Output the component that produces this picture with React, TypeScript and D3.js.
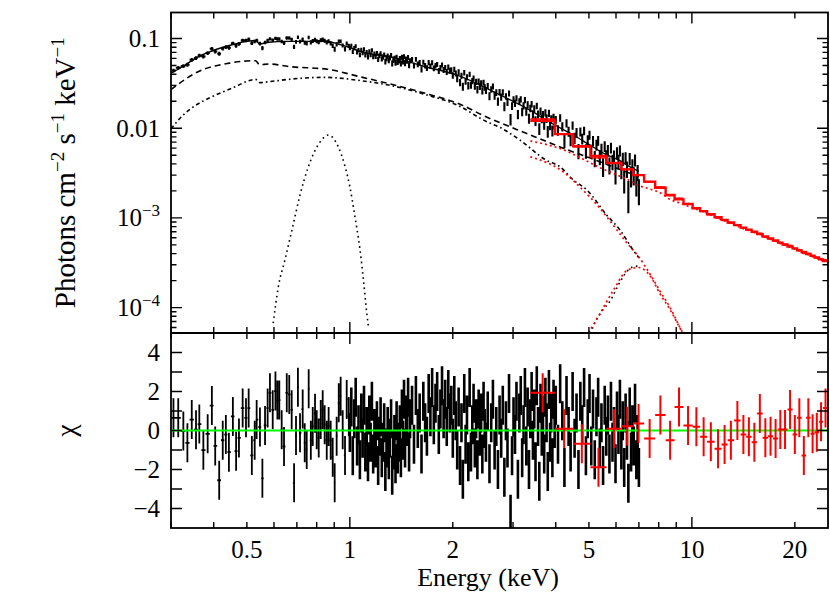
import React from "react";
import * as d3 from "d3";

// ---------- black spectrum (soft instrument) ----------
// bin centres (keV) and residuals (chi)
const blackLowE = [
  0.305, 0.315, 0.326, 0.335, 0.345, 0.355, 0.363, 0.373, 0.384, 0.395,
  0.404, 0.415, 0.425, 0.434, 0.443, 0.455, 0.465, 0.474, 0.486, 0.497,
  0.506, 0.517, 0.527, 0.534, 0.546, 0.555, 0.565, 0.575, 0.584, 0.595,
  0.606, 0.614, 0.622, 0.632, 0.642, 0.654, 0.665, 0.676, 0.687, 0.696,
  0.705, 0.715, 0.728, 0.738, 0.748, 0.758, 0.769, 0.779, 0.791, 0.8,
  0.811, 0.822, 0.833, 0.844, 0.856, 0.867, 0.879, 0.891, 0.903, 0.915,
  0.928, 0.94, 0.953, 0.968, 0.979, 0.993,
];
const blackLowChi = [
  0.65, 0.65, -0.03, -0.63, 0.56, 0.04, 0.33, -1.01, -0.17, 1.28,
  -0.79, -2.55, -0.5, -0.21, -1.11, 0.72, -1.06, -0.38, 1.15, 0.65,
  1.15, -1.28, -0.5, 0.56, 0.18, -2.45, 0.26, 1.15, 1.93, 1.06,
  2.02, 1.56, 1.56, 0.04, -0.82, 1.93, 1.85, 1.06, -2.68, -0.26,
  2.22, -0.12, 1.1, -0.63, -0.97, 2.14, -0.5, 0.21, 0.89, 0.04,
  -0.38, 0.56, 1.06, 0.3, -0.5, 0.21, -0.5, -1.37, -2.68, -0.29,
  1.42, 1.76, 0.04, -1.28, 1.59, 0.72,
];
const blackHighE = [
  1.0, 1.01, 1.02, 1.03, 1.04, 1.05, 1.06, 1.07, 1.08, 1.09,
  1.1, 1.11, 1.12, 1.13, 1.14, 1.15, 1.16, 1.17, 1.18, 1.19,
  1.2, 1.21, 1.22, 1.23, 1.24, 1.25, 1.26, 1.27, 1.28, 1.29,
  1.3, 1.31, 1.32, 1.33, 1.34, 1.35, 1.36, 1.37, 1.38, 1.39,
  1.4, 1.41, 1.42, 1.43, 1.44, 1.45, 1.46, 1.47, 1.48, 1.49,
  1.5, 1.52, 1.54, 1.56, 1.58, 1.6, 1.62, 1.64, 1.66, 1.68,
  1.7, 1.72, 1.74, 1.76, 1.78, 1.8, 1.82, 1.84, 1.86, 1.88,
  1.9, 1.92, 1.94, 1.96, 1.98, 2.0, 2.02, 2.04, 2.06, 2.08,
  2.1, 2.12, 2.14, 2.16, 2.18, 2.2, 2.22, 2.24, 2.26, 2.28,
  2.3, 2.32, 2.34, 2.36, 2.38, 2.4, 2.42, 2.44, 2.46, 2.48,
  2.5, 2.53, 2.56, 2.59, 2.62, 2.65, 2.68, 2.71, 2.74, 2.77,
  2.8, 2.83, 2.86, 2.89, 2.92, 2.95, 2.98, 3.01, 3.04, 3.07,
  3.1, 3.13, 3.16, 3.19, 3.22, 3.25, 3.28, 3.31, 3.34, 3.37,
  3.4, 3.43, 3.46, 3.49, 3.52, 3.55, 3.58, 3.61, 3.64, 3.67,
  3.7, 3.73, 3.76, 3.79, 3.82, 3.85, 3.88, 3.91, 3.94, 3.97,
  4.0, 4.06, 4.12, 4.18, 4.24, 4.3, 4.36, 4.42, 4.48, 4.54,
  4.6, 4.66, 4.72, 4.78, 4.84, 4.9, 4.96, 5.02, 5.08, 5.14,
  5.2, 5.26, 5.32, 5.38, 5.44, 5.5, 5.56, 5.62, 5.68, 5.74,
  5.8, 5.86, 5.92, 5.98, 6.04, 6.1, 6.16, 6.22, 6.28, 6.34,
  6.4, 6.46, 6.52, 6.58, 6.64, 6.7, 6.76, 6.82, 6.88, 6.94, 7.0,
];
const blackHighChi = [
  -0.1, 1.2, -1.3, 0.6, 1.7, -0.8, 0.3, -1.5, 0.9, -0.4,
  1.3, -1.1, 0.2, -1.6, 0.8, -0.6, 1.5, -1.2, 0.1, -0.9,
  0.5, -1.8, -0.3, 0.7, -1.4, -0.6, 0.4, -2.1, -0.9, 0.2,
  -1.5, -0.4, 0.6, -2.3, -1.0, -0.2, -1.7, 0.5, -1.2, -0.6,
  0.3, -1.4, 1.1, -0.5, 1.6, -0.9, 0.8, 0.2, 1.7, -1.1,
  0.6, 1.3, -0.7, 1.8, 0.1, 0.9, -1.2, 1.5, 0.4, -0.3,
  1.9, 0.7, 2.2, 0.3, 1.4, 2.0, -0.2, 1.1, 2.3, 0.6,
  1.6, 0.2, 2.1, 0.9, 1.3, -0.4, 1.8, 0.5, -1.0, 1.2,
  -1.8, 0.4, -2.5, 1.9, -0.7, 0.8, -1.6, 2.2, -1.1, 0.3,
  1.4, -0.9, 0.6, -1.5, 1.1, -0.3, 0.9, -1.2, 1.5, 0.1,
  -0.6, 1.0, -1.7, 0.4, 1.6, -1.0, 0.2, -2.0, 0.8, -0.4,
  1.3, -2.4, 0.5, -0.9, 1.9, -4.3, -1.3, 0.7, -0.2, 1.5,
  -2.5, 0.9, 1.8, -1.4, 0.3, 2.2, -0.8, 1.2, -2.0, 0.6,
  2.0, -0.5, 1.1, -1.6, 2.3, 0.2, -2.6, 1.4, -0.3, 0.8,
  -1.2, 1.7, 0.4, -2.1, 2.1, -0.6, 0.9, -1.4, 1.6, 0.1,
  1.3, -0.7, 2.4, 0.5, -1.9, 1.8, 0.2, -1.1, 2.0, -0.4,
  0.9, -2.0, 1.5, 0.3, 2.2, -1.3, 0.6, 1.9, -0.8, 1.1,
  -1.5, 0.7, 1.7, -0.9, 0.4, -1.8, 1.3, -0.3, 0.8, -1.2,
  1.5, -0.6, 0.2, -1.7, 1.0, -0.2, 1.6, -1.0, 0.5, -1.9,
  0.9, -0.5, -2.7, 1.2, -1.1, 0.3, -0.8, 1.4, -1.5, -0.2, -1.9,
];
// fractional 1-sigma error of the black points
const fracErrE = [0.3, 0.5, 1.0, 1.5, 2.0, 3.0, 4.0, 5.0, 6.0, 7.0];
const fracErr = [0.05, 0.045, 0.055, 0.07, 0.08, 0.09, 0.12, 0.15, 0.18, 0.2];

// black model curves (photons cm^-2 s^-1 keV^-1)
const totalE = [0.3, 0.33, 0.36, 0.395, 0.45, 0.5, 0.53, 0.545, 0.58, 0.65, 0.78, 0.86, 0.92, 1.0, 1.08, 1.33, 1.66, 2.08, 2.63, 3.3, 3.95, 4.5, 5.0, 5.6, 6.2, 6.6, 7.0];
const totalF = [0.041, 0.0507, 0.0626, 0.0726, 0.0847, 0.093, 0.095, 0.087, 0.091, 0.093, 0.093, 0.093, 0.087, 0.079, 0.0712, 0.062, 0.0485, 0.0385, 0.0255, 0.0165, 0.011, 0.0084, 0.0066, 0.0051, 0.0043, 0.0037, 0.0033];
const powE = [0.3, 0.36, 0.44, 0.53, 0.545, 0.58, 0.67, 0.86, 1.07, 1.34, 1.68, 2.1, 2.46, 3.07, 3.7, 4.3, 5.0, 6.0, 7.0];
const powF = [0.027, 0.0426, 0.0528, 0.0566, 0.051, 0.052, 0.0485, 0.0454, 0.0375, 0.0305, 0.0242, 0.0185, 0.0138, 0.0097, 0.0073, 0.0058, 0.0047, 0.0036, 0.0029];
const thermE = [0.3, 0.315, 0.345, 0.395, 0.452, 0.53, 0.545, 0.58, 0.66, 0.84, 1.07, 1.34, 1.68, 2.1, 2.46, 2.8, 3.14, 3.75, 4.12, 4.5, 4.93, 5.63, 6.17, 6.73, 7.0];
const thermF = [0.0098, 0.0123, 0.0168, 0.0224, 0.0279, 0.035, 0.0322, 0.033, 0.035, 0.0369, 0.034, 0.0295, 0.0235, 0.0175, 0.0123, 0.0098, 0.0074, 0.0044, 0.0037, 0.00265, 0.00205, 0.00108, 0.00073, 0.00044, 0.00036];
const lineLowE = [0.597, 0.618, 0.646, 0.677, 0.715, 0.756, 0.818, 0.866, 0.925, 0.969, 1.0, 1.035, 1.071, 1.096, 1.121, 1.133];
const lineLowF = [6.7e-5, 1.71e-4, 3.4e-4, 7.3e-4, 1.8e-3, 3.7e-3, 7.0e-3, 8.4e-3, 6.2e-3, 3.7e-3, 2.23e-3, 1.03e-3, 4.4e-4, 2.03e-4, 8.6e-5, 6.1e-5];
const lineFeE = [5.0, 5.14, 5.49, 5.78, 6.17, 6.57, 6.85, 7.0];
const lineFeF = [4.5e-5, 6.1e-5, 9.4e-5, 1.2e-4, 1.95e-4, 2.7e-4, 2.9e-4, 2.85e-4];

// ---------- red spectrum (hard instrument) ----------
const redEdges = [
  3.37, 3.98, 4.5, 5.05, 5.63, 6.22, 6.73, 7.25, 7.81, 8.38, 8.9, 9.45, 10.05,
  10.57, 11.08, 11.65, 12.21, 12.72, 13.29, 13.88, 14.41, 14.95, 15.51, 16.1,
  16.7, 17.27, 17.87, 18.41, 19.04, 19.7, 20.3, 20.93, 21.57, 22.24, 22.84,
  23.54, 24.18, 25.0,
];
const redModel = [
  0.0121, 0.0086, 0.0063, 0.0049, 0.0041, 0.00348, 0.003,
  0.00254, 0.00217, 0.0018, 0.00161, 0.00143, 0.00128, 0.00119, 0.0011, 0.00102, 0.00095,
  0.00089, 0.00083, 0.00078, 0.00074, 0.0007, 0.00066, 0.00062, 0.00059, 0.00056, 0.00053,
  0.000505, 0.00048, 0.000457, 0.000435, 0.000416, 0.000396, 0.000378, 0.000362, 0.000345, 0.000331,
];
const redPow = [
  0.0072, 0.0057, 0.0046, 0.0037, 0.0031, 0.0027, 0.0023,
  0.0021, 0.0019, 0.0016, 0.00148, 0.00135, 0.00125, 0.00117, 0.00108, 0.001, 0.00093,
  0.00087, 0.00081, 0.00076, 0.00072, 0.00068, 0.00065, 0.00061, 0.00058, 0.00055, 0.00052,
  0.000495, 0.00047, 0.000448, 0.000426, 0.000408, 0.000388, 0.00037, 0.000355, 0.000338, 0.000324,
];
const redTherm = [0.0048, 0.0032, 0.0021, 0.00134, 0.00081, 0.00052, 0.00037, 0.00024, 0.00015, 0.0001, 0.000063, 0.00004];
const redLine = [null, 0.00002, 0.00004, 0.00008, 0.00016, 0.00026, 0.00028, 0.00023, 0.00014, 0.000095, 0.000062, 0.00004];
const redChi = [
  1.93, 0.09, -0.68, -1.88, 0.09, 0.22, 0.36,
  -0.41, 0.79, -0.5, 1.21, 0.26, 0.19, -0.32, -0.58, -0.94, -0.72,
  -0.5, 0.51, -0.21, -0.32, -0.6, 0.87, -0.37, -0.29, -0.41, 0.05,
  0.05, 1.08, -0.21, 0.65, -1.28, 0.65, -0.17, -0.09, 0.45, 1.16,
];
const redFracErr = 0.025;

// axis labels
const xTickLabels = [0.5, 1, 2, 5, 10, 20];
const yTickValues = [0.1, 0.01, 1e-3, 1e-4];
const yTickText = ["0.1", "0.01", "10^−3", "10^−4"];
const chiTickValues = [4, 2, 0, -2, -4];

const W = 830;
const H = 594;
const X0 = 171;
const X1 = 828;
const YT = 12.5;
const YM = 333;
const YB = 528;
const FONT = "'Liberation Serif', 'Times New Roman', serif";

function logInterp(xs: number[], ys: number[], v: number) {
  const i = Math.max(1, Math.min(xs.length - 1, d3.bisectLeft(xs, v)));
  const t = (Math.log(v) - Math.log(xs[i - 1])) / (Math.log(xs[i]) - Math.log(xs[i - 1]));
  return Math.exp(Math.log(ys[i - 1]) + t * (Math.log(ys[i]) - Math.log(ys[i - 1])));
}

function Label({ x, y, text, anchor, size }: any) {
  const parts = text.split("^");
  return (
    <text x={x} y={y} textAnchor={anchor} fontSize={size} fontFamily={FONT}>
      {parts[0]}
      {parts[1] && (
        <tspan dy={-size * 0.4} fontSize={size * 0.68}>
          {parts[1]}
        </tspan>
      )}
    </text>
  );
}

export default function App() {
  const x = d3.scaleLog().domain([0.3, 25]).range([X0, X1]);
  const y = d3.scaleLog().domain([5.21e-5, 0.195]).range([YM, YT]);
  const yr = d3.scaleLinear().domain([-5, 5]).range([YB, YM]);

  // black points: model + chi * sigma
  const bE = blackLowE.concat(blackHighE);
  const bChi = blackLowChi.concat(blackHighChi);
  const n = bE.length;
  const errAt = d3.scaleLinear().domain(fracErrE).range(fracErr);
  const black = bE.map((e, i) => {
    const lo = i > 0 ? Math.sqrt(e * bE[i - 1]) : e / Math.sqrt(bE[1] / e);
    const hi = i < n - 1 ? Math.sqrt(e * bE[i + 1]) : e * Math.sqrt(e / bE[n - 2]);
    const m = logInterp(totalE, totalF, e);
    const rel = errAt(e);
    return { e, lo, hi, chi: bChi[i], f: m * (1 + bChi[i] * rel), err: m * rel };
  });

  const red = redModel.map((m, i) => {
    const lo = redEdges[i];
    const hi = redEdges[i + 1];
    const e = Math.sqrt(lo * hi);
    return { e, lo, hi, chi: redChi[i], m, f: m * (1 + redChi[i] * redFracErr), err: m * redFracErr };
  });

  let bUp = "";
  let bResLow = "";
  let bResHigh = "";
  black.forEach((d, i) => {
    const px = x(d.e);
    bUp += `M${px},${y(Math.max(d.f - d.err, 1e-6))}V${y(d.f + d.err)}M${x(d.lo)},${y(d.f)}H${x(d.hi)}`;
    const seg = `M${px},${yr(d.chi - 1)}V${yr(d.chi + 1)}M${x(d.lo)},${yr(d.chi)}H${x(d.hi)}`;
    if (i < blackLowE.length) bResLow += seg;
    else bResHigh += seg;
  });
  let rUp = "";
  let rRes = "";
  red.forEach((d) => {
    const px = x(d.e);
    rUp += `M${px},${y(d.f - d.err)}V${y(d.f + d.err)}M${x(d.lo)},${y(d.f)}H${x(d.hi)}`;
    rRes += `M${px},${yr(d.chi - 1)}V${yr(d.chi + 1)}M${x(d.lo)},${yr(d.chi)}H${x(d.hi)}`;
  });

  const curve = d3
    .line<[number, number]>()
    .x((d) => x(d[0]))
    .y((d) => y(d[1]))
    .curve(d3.curveMonotoneX);
  const pairs = (xs: number[], ys: number[]) => xs.map((v, i) => [v, ys[i]] as [number, number]);

  // red model: histogram over the red bins
  const step = d3
    .line<[number, number]>()
    .x((d) => x(d[0]))
    .y((d) => y(d[1]));
  const stepPts: [number, number][] = [];
  redModel.forEach((v, i) => {
    stepPts.push([redEdges[i], v]);
    stepPts.push([redEdges[i + 1], v]);
  });

  // red components: dotted curves through the bin centres
  const redCurve = d3
    .line<[number, number | null]>()
    .defined((d) => d[1] != null)
    .x((d) => x(d[0]))
    .y((d) => y(d[1] as number))
    .curve(d3.curveMonotoneX);
  const redComp = (vals: (number | null)[]) =>
    redCurve(
      vals.map((v, i) => [i === 0 ? redEdges[0] : Math.sqrt(redEdges[i] * redEdges[i + 1]), v] as [number, number | null])
    ) || "";

  // ticks
  const xTicks = x.ticks();
  const major = (v: number) => Math.abs(Math.log10(v) - Math.round(Math.log10(v))) < 1e-6;
  let tickPath = "";
  xTicks.forEach((v) => {
    const px = x(v);
    const L = major(v) ? 11 : 6;
    tickPath += `M${px},${YT}v${L}M${px},${YM}v${-L}M${px},${YM}v${L}M${px},${YB}v${-L}`;
  });
  y.ticks().forEach((v) => {
    const py = y(v);
    if (py < YT + 0.5 || py > YM - 0.5) return;
    const L = major(v) ? 11 : 5.5;
    tickPath += `M${X0},${py}h${L}M${X1},${py}h${-L}`;
  });
  d3.range(-4, 5).forEach((v) => {
    const py = yr(v);
    tickPath += `M${X0},${py}h11M${X1},${py}h-11`;
  });

  return (
    <svg
      width={W}
      height={H}
      style={{ position: "absolute", left: 0, top: 0, background: "#fff" }}
    >
      <defs>
        <clipPath id="clipUp">
          <rect x={X0} y={YT} width={X1 - X0} height={YM - YT} />
        </clipPath>
        <clipPath id="clipRes">
          <rect x={X0} y={YM} width={X1 - X0} height={YB - YM} />
        </clipPath>
      </defs>

      <g clipPath="url(#clipUp)" fill="none">
        <path d={curve(pairs(lineLowE, lineLowF)) || ""} stroke="#000" strokeWidth={1.6} strokeDasharray="1.6,3.6" />
        <path d={curve(pairs(lineFeE, lineFeF)) || ""} stroke="#000" strokeWidth={1.6} strokeDasharray="1.6,3.6" />
        <path d={curve(pairs(thermE, thermF)) || ""} stroke="#000" strokeWidth={1.6} strokeDasharray="4,3,1.6,3" />
        <path d={curve(pairs(powE, powF)) || ""} stroke="#000" strokeWidth={1.6} strokeDasharray="6,4" />
        <path d={curve(pairs(totalE, totalF)) || ""} stroke="#000" strokeWidth={1.4} />
        <path d={bUp} stroke="#000" strokeWidth={2.1} />
        <path d={redComp(redTherm)} stroke="#ff0000" strokeWidth={1.7} strokeDasharray="2,3" />
        <path d={redComp(redLine)} stroke="#ff0000" strokeWidth={1.7} strokeDasharray="2,3" />
        <path d={redComp(redPow)} stroke="#ff0000" strokeWidth={1.7} strokeDasharray="2,3" />
        <path d={step(stepPts) || ""} stroke="#ff0000" strokeWidth={2.4} />
        <path d={rUp} stroke="#ff0000" strokeWidth={1.4} />
      </g>

      <g clipPath="url(#clipRes)" fill="none">
        <path d={bResLow} stroke="#000" strokeWidth={1.8} />
        <path d={bResHigh} stroke="#000" strokeWidth={2.6} />
        <line x1={X0} x2={X1} y1={yr(0)} y2={yr(0)} stroke="#00ff00" strokeWidth={2} />
        <path d={rRes} stroke="#ff0000" strokeWidth={2} />
      </g>

      <g fill="none" stroke="#000">
        <path d={tickPath} strokeWidth={1.4} />
        <rect x={X0} y={YT} width={X1 - X0} height={YB - YT} strokeWidth={1.8} />
        <line x1={X0} x2={X1} y1={YM} y2={YM} strokeWidth={1.8} />
      </g>

      {xTickLabels.map((v) => (
        <Label key={v} x={x(v)} y={558} text={String(v)} anchor="middle" size={25} />
      ))}
      {yTickValues.map((v, i) => (
        <Label key={v} x={160} y={y(v) + 8.5} text={yTickText[i]} anchor="end" size={25} />
      ))}
      {chiTickValues.map((v) => (
        <Label key={v} x={160} y={yr(v) + 8.5} text={v < 0 ? "−" + Math.abs(v) : String(v)} anchor="end" size={25} />
      ))}

      <text x={488} y={586} textAnchor="middle" fontSize={26} fontFamily={FONT}>
        Energy (keV)
      </text>
      <text
        transform={`translate(75,${(YT + YM) / 2}) rotate(-90)`}
        textAnchor="middle"
        fontSize={29}
        fontFamily={FONT}
      >
        Photons cm
        <tspan dy={-11} fontSize={19}>−2</tspan>
        <tspan dy={11}> s</tspan>
        <tspan dy={-11} fontSize={19}>−1</tspan>
        <tspan dy={11}> keV</tspan>
        <tspan dy={-11} fontSize={19}>−1</tspan>
      </text>
      <text
        transform={`translate(75,${yr(0)}) rotate(-90)`}
        textAnchor="middle"
        fontSize={28}
        fontFamily={FONT}
      >
        χ
      </text>
    </svg>
  );
}
